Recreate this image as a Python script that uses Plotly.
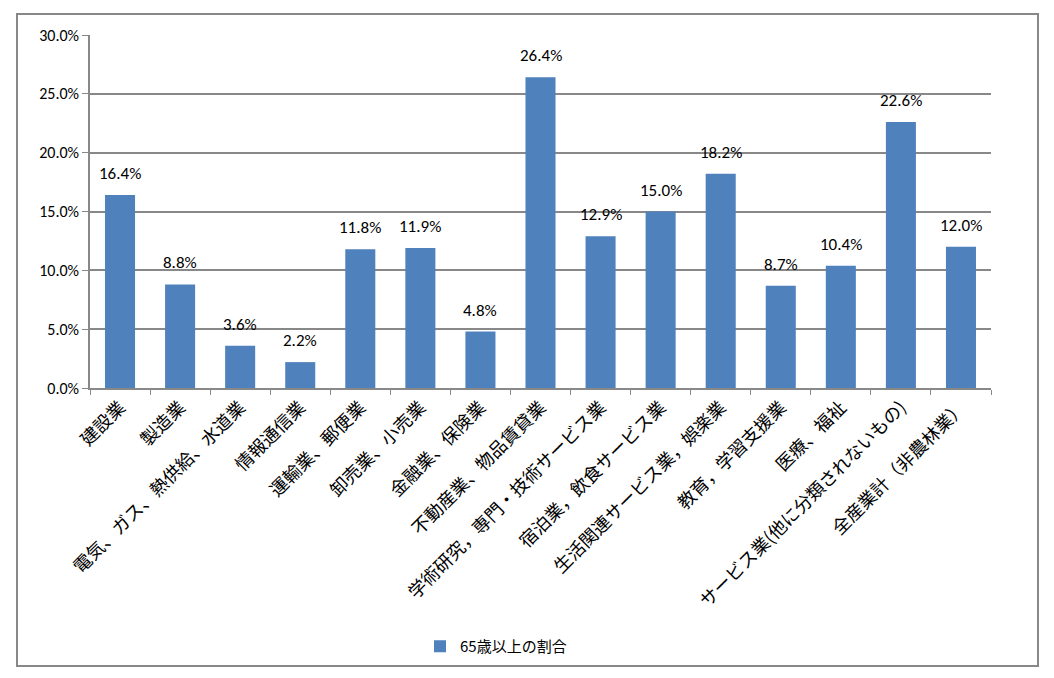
import plotly.graph_objects as go

categories = ["建設業", "製造業", "電気、ガス、熱供給、水道業", "情報通信業", "運輸業、郵便業",
              "卸売業、小売業", "金融業、保険業", "不動産業、物品賃貸業", "学術研究，専門・技術サービス業",
              "宿泊業，飲食サービス業", "生活関連サービス業，娯楽業", "教育，学習支援業", "医療、福祉",
              "サービス業(他に分類されないもの)", "全産業計（非農林業）"]
values = [0.164, 0.088, 0.036, 0.022, 0.118, 0.119, 0.048, 0.264, 0.129, 0.150, 0.182, 0.087, 0.104, 0.226, 0.120]
series_name = "65歳以上の割合"
y_ticks = [0, 0.05, 0.10, 0.15, 0.20, 0.25, 0.30]

OFF = 8  # page body margin
W, H = 1054 - OFF, 678 - OFF
L, R, T, B = 90 - OFF, 1054 - 991, 35 - OFF, 678 - 388
pw, ph = W - L - R, H - T - B

def px_x(p):
    return (p - OFF - L) / pw

def px_y(p):
    return (H - B - (p - OFF)) / ph

font = "Carlito, Calibri, Lato, 'Noto Sans CJK JP', sans-serif"
jp = "'Noto Sans CJK JP', sans-serif"

fig = go.Figure(go.Bar(
    x=categories, y=values, name=series_name,
    marker=dict(color="#4F81BD", line=dict(width=0)),
    cliponaxis=False,
))

for c, v in zip(categories, values):
    fig.add_annotation(x=c, y=v, text=f"{v*100:.1f}%", showarrow=False,
                       yanchor="bottom", yshift=9,
                       font=dict(size=17, color="#000", family=font))

fig.update_layout(
    width=W, height=H, margin=dict(l=L, r=R, t=T, b=B),
    paper_bgcolor="white", plot_bgcolor="white",
    bargap=0.5, showlegend=True,
    legend=dict(orientation="h", x=px_x(420), y=px_y(630), xanchor="left", yanchor="top",
                font=dict(size=15, family=jp, color="#000"), itemwidth=30),
    xaxis=dict(tickangle=-45, tickfont=dict(size=18, family=jp, color="#000"),
               showline=True, linecolor="#888", linewidth=1.5, ticks="outside", tickson="boundaries",
               ticklen=5, tickcolor="#888", showgrid=False),
    yaxis=dict(range=[0, 0.30], tickvals=y_ticks, tickformat=".1%",
               tickfont=dict(size=16, family=font, color="#000"),
               showgrid=True, gridcolor="#888", gridwidth=1.5,
               showline=True, linecolor="#888", linewidth=1.5, ticks="outside", ticklen=6, tickcolor="#888",
               zeroline=False),
    shapes=[dict(type="rect", xref="paper", yref="paper",
                 x0=px_x(17), x1=px_x(1038), y0=px_y(666), y1=px_y(14),
                 line=dict(color="#888", width=2))],
)

fig.write_html("out.html")
